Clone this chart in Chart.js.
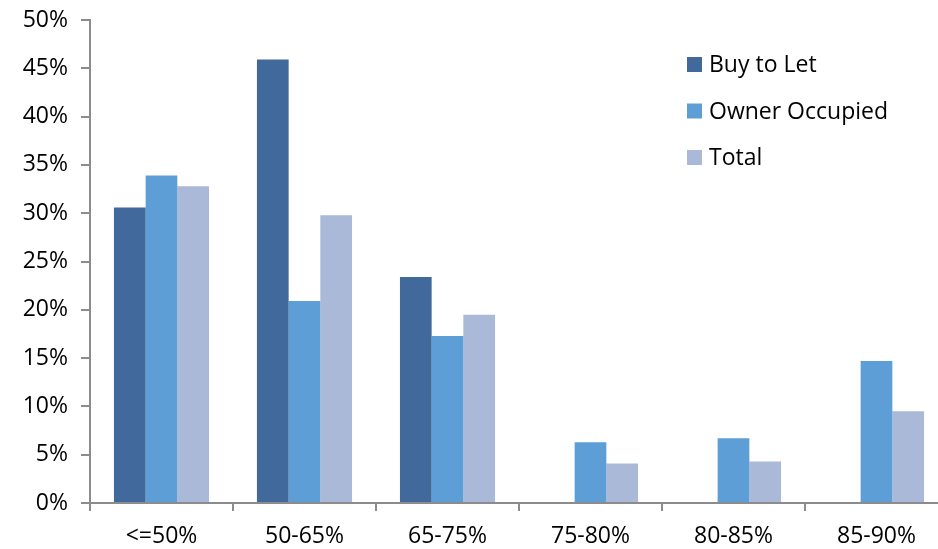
<!DOCTYPE html>
<html>
<head>
<meta charset="utf-8">
<title>Loan to value distribution</title>
<script src="https://cdn.jsdelivr.net/npm/chart.js@4.4.1/dist/chart.umd.min.js"></script>
<style>
    html, body { margin: 0; padding: 0; background: #fff; overflow: hidden; }
    .chart-wrap { position: relative; width: 950px; height: 549px; }
</style>
</head>
<body>
<div class="chart-wrap">
    <canvas id="ltvChart"></canvas>
</div>
<script>
// LTV bands and share of loans in each band (percent)
const categories = ['<=50%', '50-65%', '65-75%', '75-80%', '80-85%', '85-90%'];
const buyToLet = [30.6, 45.9, 23.4, null, null, null];
const ownerOccupied = [33.9, 20.9, 17.3, 6.3, 6.7, 14.7];
const total = [32.8, 29.8, 19.5, 4.1, 4.3, 9.5];
const seriesNames = ['Buy to Let', 'Owner Occupied', 'Total'];
const yTicks = [0, 5, 10, 15, 20, 25, 30, 35, 40, 45, 50];

const colors = ['#41699b', '#5e9ed6', '#aab9d7'];
const axisColor = '#8c8c8c';
const fontFamily = "'Open Sans', sans-serif";
const fontSize = 23;

// Legend drawn inside the plot, top right
const insideLegend = {
    id: 'insideLegend',
    afterDraw(chart) {
        const ctx = chart.ctx;
        const left = 687, top = 57, rowGap = 46.5, box = 15;
        ctx.save();
        ctx.font = fontSize + 'px ' + fontFamily;
        ctx.textBaseline = 'middle';
        chart.data.datasets.forEach((ds, i) => {
            const y = top + i * rowGap;
            ctx.fillStyle = ds.backgroundColor;
            ctx.fillRect(left, y, box, box);
            ctx.fillStyle = '#000';
            ctx.fillText(ds.label, left + 22, y + box / 2 + 1);
        });
        ctx.restore();
    }
};

const ctx = document.getElementById('ltvChart').getContext('2d');
new Chart(ctx, {
    type: 'bar',
    data: {
        labels: categories,
        datasets: [
            { label: seriesNames[0], data: buyToLet, backgroundColor: colors[0] },
            { label: seriesNames[1], data: ownerOccupied, backgroundColor: colors[1] },
            { label: seriesNames[2], data: total, backgroundColor: colors[2] }
        ]
    },
    options: {
        responsive: true,
        maintainAspectRatio: false,
        animation: false,
        devicePixelRatio: 1,
        layout: { padding: { top: 20, right: 2, left: 0, bottom: 0 } },
        datasets: {
            bar: { barPercentage: 1, categoryPercentage: 0.665, borderWidth: 0 }
        },
        plugins: {
            legend: { display: false },
            tooltip: { enabled: false }
        },
        scales: {
            x: {
                grid: {
                    offset: true,
                    drawOnChartArea: false,
                    color: axisColor,
                    lineWidth: 2,
                    tickLength: 8
                },
                border: { color: axisColor, width: 2 },
                ticks: {
                    color: '#000',
                    font: { family: fontFamily, size: fontSize },
                    padding: 12,
                    maxRotation: 0
                },
                afterFit(scale) { scale.height = 46; }
            },
            y: {
                min: 0,
                max: 50,
                afterBuildTicks(scale) {
                    scale.ticks = yTicks.map(v => ({ value: v }));
                },
                grid: {
                    drawOnChartArea: false,
                    color: axisColor,
                    lineWidth: 2,
                    tickLength: 9
                },
                border: { color: axisColor, width: 2 },
                ticks: {
                    color: '#000',
                    font: { family: fontFamily, size: fontSize },
                    padding: 13,
                    callback: v => v + '%'
                },
                afterFit(scale) {
                    scale.width = 90;
                    scale.paddingTop = 0;
                    scale.paddingBottom = 0;
                }
            }
        }
    },
    plugins: [insideLegend]
});
</script>
</body>
</html>
